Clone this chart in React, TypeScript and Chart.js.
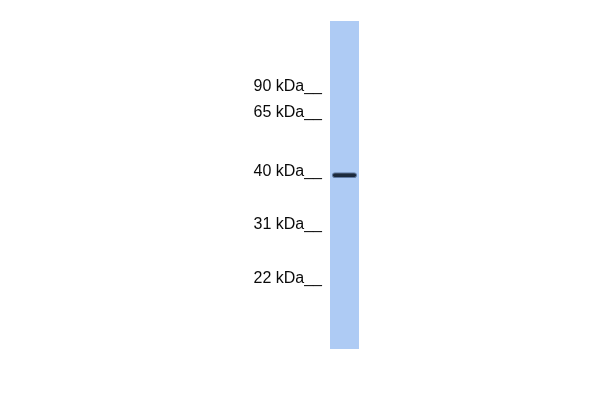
import { useEffect, useRef } from "react";
import Chart, { ChartConfiguration } from "chart.js/auto";

// marker ladder (kDa) and where each marker sits, as % of lane length from the top
const markerSizes = [90, 65, 40, 31, 22];
const markerMigration = [20.1, 28.0, 45.9, 62.0, 78.4];

// the single lane and its detected band (% migration)
const lanes = ["Sample"];
const laneSpan: [number, number][] = [[0, 100]];
const bandSpan: [number, number][] = [[46.1, 47.9]];

const App: React.FC = () => {
  const chartRef = useRef<HTMLCanvasElement>(null);
  const chartInstance = useRef<Chart | null>(null);

  useEffect(() => {
    if (!chartRef.current) return;
    const ctx = chartRef.current.getContext("2d");
    if (!ctx) return;
    if (chartInstance.current) chartInstance.current.destroy();

    const config: ChartConfiguration<"bar", [number, number][], string> = {
      type: "bar",
      data: {
        labels: lanes,
        datasets: [
          {
            label: "band",
            data: bandSpan,
            backgroundColor: "#1c2a3c",
            borderColor: "rgba(45,70,110,0.6)",
            borderWidth: 1,
            borderRadius: 4,
            borderSkipped: false,
            barPercentage: 0.87,
            categoryPercentage: 1,
            grouped: false,
            order: 0,
          },
          {
            label: "lane",
            data: laneSpan,
            backgroundColor: "#aecbf4",
            borderWidth: 0,
            barPercentage: 1,
            categoryPercentage: 1,
            grouped: false,
            order: 1,
          },
        ],
      },
      options: {
        responsive: false,
        animation: false,
        devicePixelRatio: 1,
        layout: { padding: { top: 21, bottom: 51, right: 241, left: 0 } },
        plugins: { legend: { display: false }, tooltip: { enabled: false } },
        scales: {
          x: { display: false },
          y: {
            min: 0,
            max: 100,
            reverse: true,
            border: { display: false },
            grid: { display: false, drawTicks: false },
            afterFit: (scale) => {
              scale.width = 330;
            },
            afterBuildTicks: (scale) => {
              scale.ticks = markerMigration.map((v) => ({ value: v }));
            },
            ticks: {
              padding: 8,
              color: "#0a0a0a",
              font: { family: "'Liberation Sans', Arial, sans-serif", size: 16 },
              callback: (value) => {
                const i = markerMigration.indexOf(Number(value));
                return i >= 0 ? `${markerSizes[i]} kDa__` : "";
              },
            },
          },
        },
      },
    };

    chartInstance.current = new Chart(ctx, config);
    return () => {
      chartInstance.current?.destroy();
      chartInstance.current = null;
    };
  }, []);

  return (
    <div style={{ position: "absolute", left: 0, top: 0, width: 600, height: 400, background: "#fff" }}>
      <canvas ref={chartRef} width={600} height={400} />
    </div>
  );
};

export default App;
